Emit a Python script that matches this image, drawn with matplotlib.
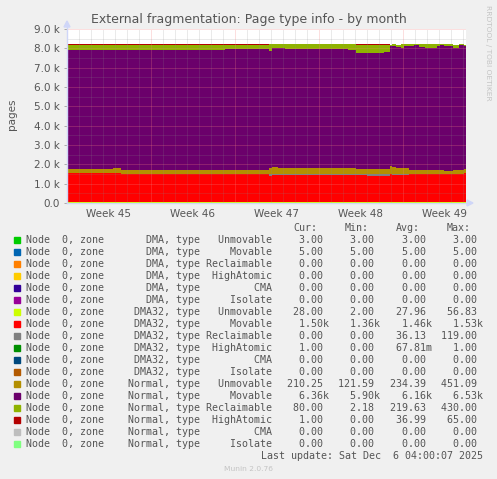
import numpy as np
import matplotlib.pyplot as plt
from matplotlib.patches import Rectangle

W, H = 497, 479

# segment starts in days since the left edge of the graph
seg_start = [0.0, 3.8, 4.5, 13.2, 16.8, 17.1, 17.6, 18.2, 23.4, 24.1, 25.0, 26.4,
             26.9, 27.1, 27.4, 27.8, 28.1, 28.5, 28.9, 29.3, 29.8, 30.8, 31.1,
             31.4, 32.2, 32.7, 33.1]
x_end = 33.25

n = len(seg_start)
dma_unmovable = [3] * n
dma_movable = [5] * n
dma32_unmovable = [28] * n
dma32_movable = [1490, 1490, 1480, 1480, 1380, 1420, 1420, 1420, 1420, 1420, 1370, 1370,
                 1450, 1410, 1410, 1410, 1410, 1480, 1480, 1480, 1480, 1480, 1480,
                 1480, 1480, 1480, 1500]
dma32_reclaimable = [0, 0, 0, 0, 100, 60, 60, 60, 60, 60, 119, 119,
                     0, 60, 60, 60, 60, 0, 0, 0, 0, 0, 0, 0, 0, 0, 0]
normal_unmovable = [223, 273, 193, 193, 283, 363, 293, 293, 293, 243, 234, 234,
                    451, 343, 303, 303, 303, 183, 183, 183, 183, 183, 183,
                    163, 173, 193, 210]
normal_movable = [6160, 6110, 6200, 6270, 6080, 6150, 6220, 6170, 6120, 6010, 6010, 6050,
                  6170, 6270, 6260, 6220, 6290, 6400, 6450, 6370, 6320, 6420, 6490,
                  6440, 6340, 6440, 6360]
normal_reclaimable = [265, 265, 265, 195, 360, 210, 210, 260, 310, 405, 405, 365,
                      60, 80, 120, 170, 100, 110, 50, 130, 180, 80, 20,
                      80, 160, 50, 80]
normal_highatomic = [65, 65, 65, 65, 1, 1, 1, 1, 1, 65, 65, 65,
                     1, 1, 1, 1, 1, 1, 1, 1, 1, 1, 1, 1, 1, 1, 1]

zones = ["DMA"] * 6 + ["DMA32"] * 6 + ["Normal"] * 6
types = ["Unmovable", "Movable", "Reclaimable", "HighAtomic", "CMA", "Isolate"] * 3
colors = ["#00CC00", "#0066B3", "#FF8000", "#FFCC00", "#330099", "#990099",
          "#CCFF00", "#FF0000", "#808080", "#008F00", "#00487D", "#B35A00",
          "#B38F00", "#6B006B", "#8FB300", "#B30000", "#BEBEBE", "#80FF80"]
cur = ["3.00", "5.00", "0.00", "0.00", "0.00", "0.00", "28.00", "1.50k", "0.00",
       "1.00", "0.00", "0.00", "210.25", "6.36k", "80.00", "1.00", "0.00", "0.00"]
mins = ["3.00", "5.00", "0.00", "0.00", "0.00", "0.00", "2.00", "1.36k", "0.00",
        "0.00", "0.00", "0.00", "121.59", "5.90k", "2.18", "0.00", "0.00", "0.00"]
avgs = ["3.00", "5.00", "0.00", "0.00", "0.00", "0.00", "27.96", "1.46k", "36.13",
        "67.81m", "0.00", "0.00", "234.39", "6.16k", "219.63", "36.99", "0.00", "0.00"]
maxs = ["3.00", "5.00", "0.00", "0.00", "0.00", "0.00", "56.83", "1.53k", "119.00",
        "1.00", "0.00", "0.00", "451.09", "6.53k", "430.00", "65.00", "0.00", "0.00"]

week_labels = ["Week 45", "Week 46", "Week 47", "Week 48", "Week 49"]
week_pos = [3.5, 10.5, 17.5, 24.5, 31.5]

FONT = "#555555"


def fx(px):
    return px / W


def fy(py):
    return 1 - py / H


fig = plt.figure(figsize=(W / 100, H / 100), dpi=100, facecolor="#F0F0F0")
ax = fig.add_axes([fx(67), fy(203), (466 - 67) / W, (203 - 29) / H])
ax.set_facecolor("white")

# stacked areas in munin's draw order (zero series just add nothing)
stack = [
    (dma_unmovable, colors[0]), (dma_movable, colors[1]),
    (dma32_unmovable, colors[6]), (dma32_movable, colors[7]),
    (dma32_reclaimable, colors[8]), (normal_unmovable, colors[12]),
    (normal_movable, colors[13]), (normal_reclaimable, colors[14]),
    (normal_highatomic, colors[15]),
]
x = np.array(seg_start + [x_end])
base = np.zeros(len(x))
for vals, c in stack:
    v = np.array(vals + [vals[-1]], dtype=float)
    ax.fill_between(x, base, base + v, step="post", color=c, lw=0, zorder=2)
    base = base + v

ax.set_xlim(0, x_end)
ax.set_ylim(0, 9000)

# grid drawn over the data, like rrdtool
dot = (0, (1, 1))
major = (0.96, 0.5, 0.5, 0.5)
minor = (0.55, 0.55, 0.55, 0.35)
for d in range(1, 34):
    ax.axvline(d, color=major if d % 7 == 0 else minor, lw=0.72, ls=dot, zorder=3)
for v in range(500, 9001, 500):
    ax.axhline(v, color=major if v % 1000 == 0 else minor, lw=0.72, ls=dot, zorder=3)

for s in ax.spines.values():
    s.set_visible(False)

yt = list(range(0, 9001, 1000))
ax.set_yticks(yt)
ax.set_yticklabels(["0.0"] + [f"{t / 1000:.1f} k" for t in yt[1:]])
ax.set_xticks(week_pos)
ax.set_xticklabels(week_labels)
ax.tick_params(axis="y", length=2, width=0.7, color="#AAAAAA", pad=3,
               labelsize=7.5, labelcolor=FONT)
ax.tick_params(axis="x", length=0, pad=4.5, labelsize=7.5, labelcolor=FONT)

# axis arrows
ax_col = "#CFD6F8"
fig.add_artist(plt.Line2D([fx(67), fx(468)], [fy(203), fy(203)], color=ax_col, lw=1,
                          zorder=5))
fig.add_artist(plt.Line2D([fx(67), fx(67)], [fy(203), fy(25)], color=ax_col, lw=1,
                          zorder=5))
fig.add_artist(plt.Polygon([[fx(467), fy(200)], [fx(473), fy(203)], [fx(467), fy(206)]],
                           closed=True, color=ax_col, transform=fig.transFigure))
fig.add_artist(plt.Polygon([[fx(64), fy(27)], [fx(67), fy(21)], [fx(70), fy(27)]],
                           closed=True, color=ax_col, transform=fig.transFigure))

fig.text(fx(248.5), fy(22.7), "External fragmentation: Page type info - by month",
         ha="center", va="baseline", fontsize=9, color=FONT)
fig.text(fx(12), fy(114), "pages", rotation=90, ha="center", va="center",
         fontsize=7.5, color=FONT)
fig.text(fx(488), fy(5), "RRDTOOL / TOBI OETIKER", rotation=270, ha="center", va="top",
         fontsize=5.4, color="#C4C4C4")

# legend
mono = "DejaVu Sans Mono"
fs = 7.2
col_x = [287, 338.3, 389.6, 440.9]
for label, px in zip(["Cur:", "Min:", "Avg:", "Max:"], [293, 344.5, 396, 447]):
    fig.text(fx(px), fy(231), label, family=mono, fontsize=fs, color=FONT, va="baseline")


def fmt(s):
    if s[-1].isalpha():
        return s[:-1].rjust(6) + s[-1]
    return s.rjust(6) + " "


for i in range(18):
    yb = 243.3 + 12 * i
    fig.add_artist(Rectangle((fx(14), fy(yb - 0.3)), 6 / W, 6 / H, color=colors[i],
                             transform=fig.transFigure))
    label = f"Node  0, zone {zones[i] + ',':>10} type {types[i]:>11}"
    fig.text(fx(26), fy(yb), label, family=mono, fontsize=fs, color=FONT, va="baseline")
    for px, col in zip(col_x, [cur, mins, avgs, maxs]):
        fig.text(fx(px), fy(yb), fmt(col[i]), family=mono, fontsize=fs, color=FONT,
                 va="baseline")

fig.text(fx(482.7), fy(459.3), "Last update: Sat Dec  6 04:00:07 2025", family=mono,
         fontsize=fs, color=FONT, ha="right", va="baseline")
fig.text(fx(248), fy(470.7), "Munin 2.0.76", fontsize=5.4, color="#C4C4C4",
         ha="center", va="baseline")

fig.savefig("out.png", dpi=100, facecolor=fig.get_facecolor())
